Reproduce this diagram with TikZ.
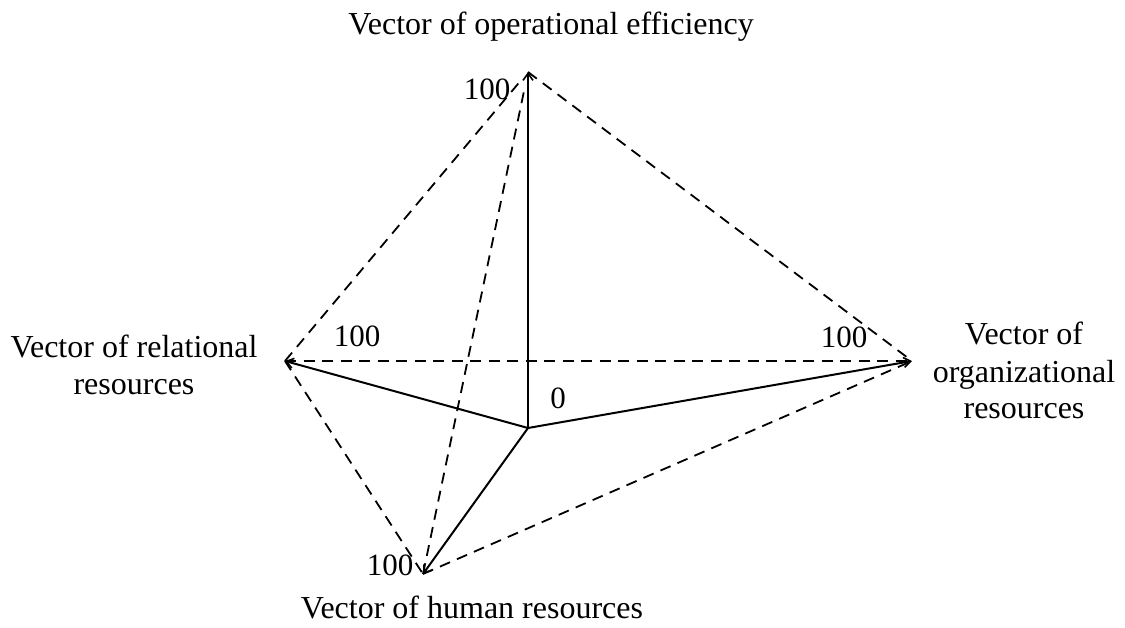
\documentclass[tikz,border=0pt]{standalone}
\usepackage{fontspec}
\setmainfont{Liberation Serif}
\usetikzlibrary{arrows.meta,calc}
\begin{document}
\begin{tikzpicture}[x=1pt,y=-1pt,
  axis/.style={line width=2pt,-{Straight Barb[length=7pt,width=10pt,line width=1.6pt]}},
  edge/.style={line width=1.8pt,dash pattern=on 11pt off 7.5pt},
  lbl/.style={font=\fontsize{32}{37}\selectfont,inner sep=0pt,anchor=base},
  num/.style={font=\fontsize{31}{36}\selectfont,inner sep=0pt,anchor=base}]
\useasboundingbox (0,0) rectangle (1125,628);
\coordinate (O) at (528,428);
\coordinate (T) at (528,72);
\coordinate (L) at (285,361);
\coordinate (R) at (912,361);
\coordinate (B) at (423,574);
\draw[axis] (O) -- (T);
\draw[axis] (O) -- (L);
\draw[axis] (O) -- (R);
\draw[axis] (O) -- (B);
\draw[edge] (L) -- ($(L)!0.96!(T)$) coordinate (t1);
\draw[edge] (T) -- (R);
\draw[edge] (B) -- ($(B)!0.97!(T)$) coordinate (t2);
\draw[edge] (L) -- (R);
\draw[edge] (L) -- (B);
\draw[edge] (B) -- (R);
\node[lbl] (tt) at (551,35) {Vector of operational efficiency};
\node[lbl] (lt1) at (134,358) {Vector of relational};
\node[lbl] (lt2) at (134,395) {resources};
\node[lbl] (rt1) at (1024,345) {Vector of};
\node[lbl] (rt2) at (1024,382) {organizational};
\node[lbl] (rt3) at (1024,418) {resources};
\node[lbl] (bt) at (472,618) {Vector of human resources};
\node[num] (n1) at (487,100) {100};
\node[num] (n2) at (357,347) {100};
\node[num] (n3) at (844,348) {100};
\node[num] (n4) at (390,575) {100};
\node[num] (n0) at (558,409) {0};
\end{tikzpicture}
\end{document}
